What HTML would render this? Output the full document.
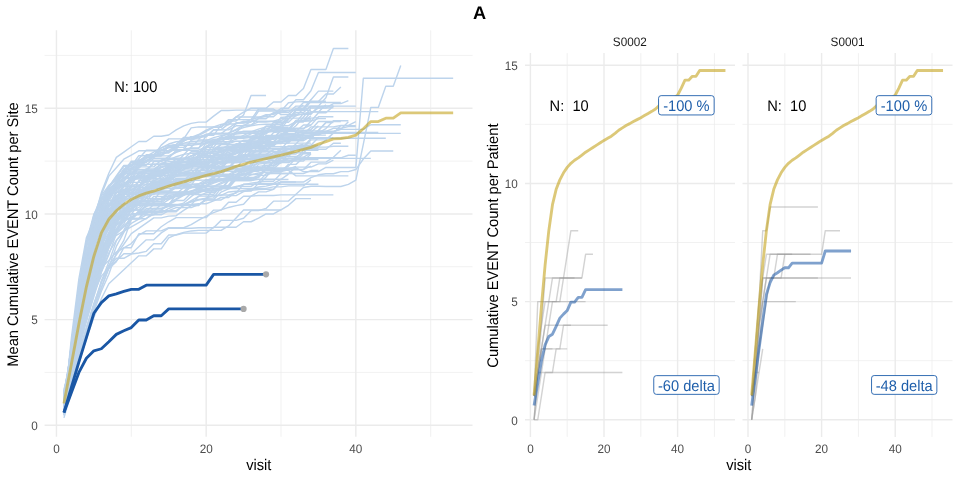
<!DOCTYPE html><html><head><meta charset="utf-8"><style>html,body{margin:0;padding:0;background:#fff;width:960px;height:480px;overflow:hidden}svg{display:block;will-change:transform}</style></head><body><svg width="960" height="480" viewBox="0 0 960 480" font-family='"Liberation Sans", sans-serif' text-rendering="geometricPrecision"><rect width="960" height="480" fill="#fff"/><line x1="44.60" x2="472.50" y1="372.42" y2="372.42" stroke="#ebebeb" stroke-width="0.71"/><line x1="44.60" x2="472.50" y1="266.75" y2="266.75" stroke="#ebebeb" stroke-width="0.71"/><line x1="44.60" x2="472.50" y1="161.09" y2="161.09" stroke="#ebebeb" stroke-width="0.71"/><line x1="44.60" x2="472.50" y1="55.42" y2="55.42" stroke="#ebebeb" stroke-width="0.71"/><line x1="131.30" x2="131.30" y1="30.30" y2="436.80" stroke="#ebebeb" stroke-width="0.71"/><line x1="281.00" x2="281.00" y1="30.30" y2="436.80" stroke="#ebebeb" stroke-width="0.71"/><line x1="430.70" x2="430.70" y1="30.30" y2="436.80" stroke="#ebebeb" stroke-width="0.71"/><line x1="44.60" x2="472.50" y1="425.25" y2="425.25" stroke="#ebebeb" stroke-width="1.42"/><line x1="44.60" x2="472.50" y1="319.59" y2="319.59" stroke="#ebebeb" stroke-width="1.42"/><line x1="44.60" x2="472.50" y1="213.92" y2="213.92" stroke="#ebebeb" stroke-width="1.42"/><line x1="44.60" x2="472.50" y1="108.25" y2="108.25" stroke="#ebebeb" stroke-width="1.42"/><line x1="56.45" x2="56.45" y1="30.30" y2="436.80" stroke="#ebebeb" stroke-width="1.42"/><line x1="206.15" x2="206.15" y1="30.30" y2="436.80" stroke="#ebebeb" stroke-width="1.42"/><line x1="355.85" x2="355.85" y1="30.30" y2="436.80" stroke="#ebebeb" stroke-width="1.42"/><line x1="525.00" x2="735.00" y1="360.67" y2="360.67" stroke="#ebebeb" stroke-width="0.71"/><line x1="525.00" x2="735.00" y1="242.50" y2="242.50" stroke="#ebebeb" stroke-width="0.71"/><line x1="525.00" x2="735.00" y1="124.34" y2="124.34" stroke="#ebebeb" stroke-width="0.71"/><line x1="567.20" x2="567.20" y1="53.10" y2="436.90" stroke="#ebebeb" stroke-width="0.71"/><line x1="640.80" x2="640.80" y1="53.10" y2="436.90" stroke="#ebebeb" stroke-width="0.71"/><line x1="714.40" x2="714.40" y1="53.10" y2="436.90" stroke="#ebebeb" stroke-width="0.71"/><line x1="525.00" x2="735.00" y1="419.75" y2="419.75" stroke="#ebebeb" stroke-width="1.42"/><line x1="525.00" x2="735.00" y1="301.59" y2="301.59" stroke="#ebebeb" stroke-width="1.42"/><line x1="525.00" x2="735.00" y1="183.42" y2="183.42" stroke="#ebebeb" stroke-width="1.42"/><line x1="525.00" x2="735.00" y1="65.25" y2="65.25" stroke="#ebebeb" stroke-width="1.42"/><line x1="530.40" x2="530.40" y1="53.10" y2="436.90" stroke="#ebebeb" stroke-width="1.42"/><line x1="604.00" x2="604.00" y1="53.10" y2="436.90" stroke="#ebebeb" stroke-width="1.42"/><line x1="677.60" x2="677.60" y1="53.10" y2="436.90" stroke="#ebebeb" stroke-width="1.42"/><line x1="742.50" x2="952.50" y1="360.67" y2="360.67" stroke="#ebebeb" stroke-width="0.71"/><line x1="742.50" x2="952.50" y1="242.50" y2="242.50" stroke="#ebebeb" stroke-width="0.71"/><line x1="742.50" x2="952.50" y1="124.34" y2="124.34" stroke="#ebebeb" stroke-width="0.71"/><line x1="784.80" x2="784.80" y1="53.10" y2="436.90" stroke="#ebebeb" stroke-width="0.71"/><line x1="858.40" x2="858.40" y1="53.10" y2="436.90" stroke="#ebebeb" stroke-width="0.71"/><line x1="932.00" x2="932.00" y1="53.10" y2="436.90" stroke="#ebebeb" stroke-width="0.71"/><line x1="742.50" x2="952.50" y1="419.75" y2="419.75" stroke="#ebebeb" stroke-width="1.42"/><line x1="742.50" x2="952.50" y1="301.59" y2="301.59" stroke="#ebebeb" stroke-width="1.42"/><line x1="742.50" x2="952.50" y1="183.42" y2="183.42" stroke="#ebebeb" stroke-width="1.42"/><line x1="742.50" x2="952.50" y1="65.25" y2="65.25" stroke="#ebebeb" stroke-width="1.42"/><line x1="748.00" x2="748.00" y1="53.10" y2="436.90" stroke="#ebebeb" stroke-width="1.42"/><line x1="821.60" x2="821.60" y1="53.10" y2="436.90" stroke="#ebebeb" stroke-width="1.42"/><line x1="895.20" x2="895.20" y1="53.10" y2="436.90" stroke="#ebebeb" stroke-width="1.42"/><g fill="none" stroke="#bdd4ec" stroke-width="1.42" stroke-linejoin="round"><path d="M63.94 408.08L71.42 354.78L78.91 308.51L86.39 267.00L93.88 232.50L101.36 206.52L108.84 189.78L116.33 182.80L123.82 168.86L131.30 168.86L138.79 161.88L146.27 161.88L153.75 154.91L161.24 147.94L168.73 145.42L176.21 144.65L183.69 137.35L191.18 137.35L198.67 134.50L206.15 130.24L213.63 126.86L221.12 124.35L228.61 122.71L236.09 116.83L243.57 112.08L251.06 108.25L258.55 108.25L266.03 108.25L273.51 101.92L281.00 101.92L288.49 95.58L295.97 95.58L303.46 88.39L310.94 69.58L318.43 69.58L325.91 69.58L333.39 48.45L340.88 48.45L348.37 48.45"/><path d="M63.94 397.66L71.42 356.49L78.91 310.25L86.39 268.39L93.88 234.04L101.36 207.33L108.84 190.29L116.33 183.32L123.82 169.37L131.30 162.40L138.79 162.40L146.27 162.40L153.75 155.42L161.24 155.42L168.73 145.97L176.21 145.23L183.69 145.23L191.18 145.23L198.67 144.33L206.15 140.54L213.63 137.62L221.12 135.58L228.61 134.40L236.09 122.77L243.57 122.77L251.06 119.45L258.55 117.54L266.03 114.59L273.51 114.59L281.00 108.25L288.49 108.25L295.97 99.80L303.46 99.80L310.94 90.71L318.43 72.54L325.91 72.54L333.39 72.54L340.88 72.54L348.37 72.54L355.85 72.54"/><path d="M63.94 392.06L71.42 356.45L78.91 310.95L86.39 268.37L93.88 233.83L101.36 207.40L108.84 190.27L116.33 181.81L123.82 173.36L131.30 169.14L138.79 164.91L146.27 160.68L153.75 156.46L161.24 152.23L168.73 152.23L176.21 146.63L183.69 141.19L191.18 136.81L198.67 136.81L206.15 136.81L213.63 129.99L221.12 129.84L228.61 129.84L236.09 125.82L243.57 125.82L251.06 124.98L258.55 121.92L266.03 121.92L273.51 121.21L281.00 118.82L288.49 118.82L295.97 112.48L303.46 112.48L310.94 106.14L318.43 106.14L325.91 97.69L333.39 76.98L340.88 76.98L348.37 76.98"/><path d="M63.94 402.57L71.42 368.40L78.91 331.54L86.39 296.77L93.88 267.38L101.36 245.67L108.84 232.25L116.33 225.27L123.82 218.30L131.30 218.30L138.79 218.30L146.27 211.32L153.75 211.32L161.24 204.35L168.73 204.35L176.21 204.35L183.69 204.34L191.18 201.43L198.67 199.39L206.15 198.23L213.63 197.93L221.12 188.05L228.61 188.05L236.09 179.61L243.57 179.61L251.06 179.61L258.55 176.55L266.03 167.98L273.51 167.98L281.00 167.98L288.49 167.98L295.97 167.98L303.46 171.65L310.94 171.65L318.43 171.65L325.91 167.43L333.39 167.43L340.88 167.43L348.37 167.43L355.85 167.43L363.33 78.25L370.82 78.25L378.31 78.25L385.79 78.25L393.27 78.25L400.76 78.25L408.25 78.25L415.73 78.25L423.22 78.25L430.70 78.25L438.19 78.25L445.67 78.25L453.16 78.25"/><path d="M63.94 404.07L71.42 376.91L78.91 345.14L86.39 316.74L93.88 292.75L101.36 276.11L108.84 267.75L116.33 260.77L123.82 253.80L131.30 253.80L138.79 246.82L146.27 239.85L153.75 239.85L161.24 232.88L168.73 228.26L176.21 228.26L183.69 228.26L191.18 228.26L198.67 227.68L206.15 227.68L213.63 227.68L221.12 220.38L228.61 220.38L236.09 220.38L243.57 218.30L251.06 210.64L258.55 210.64L266.03 208.39L273.51 201.16L281.00 201.16L288.49 201.08L295.97 194.29L303.46 187.50L310.94 186.31L318.43 186.31L325.91 186.45L333.39 186.45L340.88 186.45L348.37 184.33L355.85 180.11L363.33 144.18L370.82 107.41L378.31 107.41L385.79 86.28L393.27 86.28L400.76 65.57"/><path d="M63.94 405.03L71.42 355.23L78.91 309.57L86.39 268.59L93.88 233.85L101.36 207.87L108.84 192.04L116.33 185.07L123.82 171.12L131.30 164.14L138.79 164.14L146.27 157.17L153.75 157.17L161.24 150.20L168.73 147.83L176.21 147.20L183.69 140.03L191.18 138.84L198.67 135.29L206.15 131.50L213.63 127.27L221.12 127.27L228.61 120.93L236.09 120.93L243.57 115.02L251.06 95.58L258.55 95.58L266.03 95.58"/><path d="M63.94 407.92L71.42 356.21L78.91 310.92L86.39 268.66L93.88 234.18L101.36 208.37L108.84 193.25L116.33 182.69L123.82 172.12L131.30 172.12L138.79 172.12L146.27 172.12L153.75 161.55L161.24 161.55L168.73 156.30L176.21 152.37L183.69 149.76L191.18 148.46L198.67 148.46L206.15 135.31L213.63 135.31L221.12 124.81L228.61 124.81L236.09 116.94L243.57 116.94L251.06 116.94L258.55 116.94L266.03 116.71L273.51 116.71L281.00 110.37L288.49 110.37L295.97 110.37L303.46 102.55L310.94 102.55L318.43 102.55L325.91 102.55L333.39 102.55L340.88 102.55"/><path d="M63.94 395.89L71.42 354.38L78.91 308.31L86.39 266.83L93.88 231.72L101.36 205.77L108.84 192.13L116.33 181.56L123.82 181.56L131.30 170.99L138.79 170.99L146.27 170.99L153.75 170.99L161.24 170.99L168.73 166.33L176.21 162.99L183.69 154.69L191.18 147.05L198.67 140.08L206.15 140.08L213.63 140.08L221.12 138.96L228.61 135.29L236.09 132.28L243.57 125.72L251.06 121.69L258.55 118.82L266.03 118.82L273.51 112.48L281.00 112.48L288.49 112.48L295.97 106.14L303.46 106.14L310.94 106.14L318.43 106.14L325.91 106.14L333.39 106.14"/><path d="M63.94 405.84L71.42 356.65L78.91 311.10L86.39 269.23L93.88 233.70L101.36 206.17L108.84 187.38L116.33 176.82L123.82 166.25L131.30 166.25L138.79 155.68L146.27 155.68L153.75 155.68L161.24 145.12L168.73 138.84L176.21 138.84L183.69 138.84L191.18 127.92L198.67 126.92L206.15 126.92L213.63 126.92L221.12 126.92L228.61 119.62L236.09 119.62L243.57 119.62L251.06 119.62L258.55 109.03L266.03 109.03L273.51 109.03L281.00 114.59L288.49 114.59L295.97 108.25L303.46 108.25L310.94 99.80L318.43 91.14L325.91 91.14L333.39 91.14"/><path d="M63.94 407.67L71.42 355.11L78.91 309.47L86.39 267.52L93.88 232.48L101.36 206.30L108.84 186.86L116.33 178.41L123.82 169.96L131.30 165.73L138.79 161.50L146.27 161.50L153.75 157.28L161.24 153.05L168.73 153.05L176.21 147.56L183.69 147.19L191.18 143.12L198.67 143.12L206.15 143.12L213.63 143.12L221.12 137.41L228.61 137.41L236.09 137.41L243.57 137.09L251.06 133.82L258.55 131.07L266.03 128.85L273.51 127.16L281.00 117.54L288.49 116.64L295.97 115.63L303.46 113.92L310.94 111.64L318.43 111.64L325.91 111.64L333.39 111.64L340.88 111.64L348.37 111.64L355.85 111.64L363.33 111.64L370.82 111.64L378.31 111.64"/><path d="M63.94 389.32L71.42 360.61L78.91 317.40L86.39 279.11L93.88 246.86L101.36 220.66L108.84 206.52L116.33 202.29L123.82 193.84L131.30 189.61L138.79 185.38L146.27 181.16L153.75 181.16L161.24 176.93L168.73 170.39L176.21 164.91L183.69 164.91L191.18 164.91L198.67 164.91L206.15 164.91L213.63 164.91L221.12 154.21L228.61 149.52L236.09 145.36L243.57 145.36L251.06 145.36L258.55 143.71L266.03 141.93L273.51 132.48L281.00 131.49L288.49 131.03L295.97 131.03L303.46 131.03L310.94 131.03L318.43 131.03L325.91 131.50L333.39 131.50L340.88 129.39L348.37 129.39L355.85 129.39L363.33 129.39L370.82 124.74L378.31 124.74L385.79 124.74L393.27 124.74L400.76 124.74"/><path d="M63.94 398.95L71.42 359.11L78.91 316.63L86.39 276.69L93.88 243.94L101.36 219.12L108.84 213.99L116.33 200.04L123.82 193.07L131.30 186.09L138.79 172.15L146.27 172.15L153.75 172.15L161.24 172.15L168.73 171.15L176.21 171.15L183.69 166.10L191.18 161.17L198.67 157.12L206.15 157.12L213.63 157.12L221.12 157.12L228.61 157.12L236.09 149.95L243.57 149.95L251.06 149.95L258.55 143.46L266.03 143.46L273.51 137.54L281.00 137.54L288.49 137.54L295.97 135.55L303.46 133.40L310.94 133.40L318.43 133.40L325.91 133.40L333.39 133.40L340.88 133.40L348.37 133.40L355.85 133.40L363.33 133.40L370.82 133.40L378.31 133.40L385.79 133.40L393.27 133.40L400.76 133.40"/><path d="M63.94 404.60L71.42 361.92L78.91 319.75L86.39 280.83L93.88 248.34L101.36 224.82L108.84 210.35L116.33 205.06L123.82 194.50L131.30 194.50L138.79 189.21L146.27 183.93L153.75 183.93L161.24 183.93L168.73 180.07L176.21 171.60L183.69 170.05L191.18 163.22L198.67 163.22L206.15 163.22L213.63 161.89L221.12 158.37L228.61 155.50L236.09 153.30L243.57 151.75L251.06 150.87L258.55 150.65L266.03 150.65L273.51 141.94L281.00 141.94L288.49 139.75L295.97 139.75L303.46 138.26L310.94 138.26L318.43 138.26L325.91 138.26L333.39 138.26L340.88 138.26L348.37 138.26L355.85 138.26L363.33 138.26L370.82 138.26L378.31 138.26L385.79 138.26"/><path d="M63.94 391.14L71.42 360.46L78.91 319.42L86.39 280.68L93.88 249.45L101.36 224.88L108.84 215.45L116.33 206.99L123.82 198.54L131.30 194.31L138.79 194.31L146.27 190.09L153.75 181.64L161.24 181.64L168.73 175.39L176.21 174.96L183.69 174.96L191.18 173.56L198.67 172.07L206.15 165.83L213.63 165.83L221.12 161.27L228.61 161.27L236.09 159.87L243.57 159.87L251.06 154.25L258.55 154.25L266.03 154.25L273.51 149.78L281.00 149.35L288.49 140.73L295.97 140.73L303.46 140.73L310.94 136.33L318.43 133.82L325.91 132.56L333.39 132.56L340.88 132.56L348.37 132.56L355.85 132.56L363.33 132.56L370.82 132.56L378.31 132.56"/><path d="M63.94 407.43L71.42 369.75L78.91 333.05L86.39 300.82L93.88 273.01L101.36 252.57L108.84 234.95L116.33 224.39L123.82 219.10L131.30 213.82L138.79 213.82L146.27 213.82L153.75 208.54L161.24 208.54L168.73 206.22L176.21 205.22L183.69 205.22L191.18 200.59L198.67 196.29L206.15 192.65L213.63 192.65L221.12 187.35L228.61 187.35L236.09 187.35L243.57 184.36L251.06 184.36L258.55 184.36L266.03 184.36L273.51 184.36L281.00 182.02L288.49 182.02L295.97 182.02L303.46 182.02L310.94 177.71L318.43 174.82L325.91 173.77L333.39 173.77L340.88 171.65L348.37 171.65L355.85 169.54L363.33 158.97L370.82 150.94L378.31 150.94L385.79 150.94L393.27 150.94"/><path d="M63.94 406.25L71.42 364.81L78.91 326.08L86.39 290.95L93.88 260.37L101.36 237.33L108.84 224.27L116.33 215.81L123.82 211.59L131.30 211.59L138.79 207.36L146.27 203.13L153.75 198.91L161.24 198.91L168.73 198.23L176.21 194.39L183.69 191.60L191.18 184.59L198.67 183.65L206.15 183.65L213.63 178.87L221.12 178.87L228.61 177.26L236.09 174.20L243.57 171.68L251.06 169.69L258.55 168.22L266.03 167.28L273.51 166.87L281.00 158.54L288.49 158.54L295.97 158.54L303.46 158.34L310.94 158.34L318.43 158.34L325.91 158.34L333.39 158.34L340.88 158.34L348.37 158.34L355.85 158.34L363.33 158.34L370.82 158.34"/><path d="M63.94 406.99L71.42 374.78L78.91 341.74L86.39 311.43L93.88 286.00L101.36 267.59L108.84 260.49L116.33 252.04L123.82 247.81L131.30 243.59L138.79 235.13L146.27 230.91L153.75 230.91L161.24 230.91L168.73 227.74L176.21 227.74L183.69 227.74L191.18 224.59L198.67 220.10L206.15 216.14L213.63 212.71L221.12 209.81L228.61 207.44L236.09 205.60L243.57 204.28L251.06 196.10L258.55 195.57L266.03 195.57L273.51 195.57L281.00 194.90L288.49 194.90L295.97 194.90L303.46 194.90L310.94 194.90L318.43 194.90L325.91 194.90L333.39 194.90"/><path d="M63.94 402.06L71.42 370.26L78.91 334.25L86.39 300.43L93.88 273.08L101.36 252.66L108.84 243.83L116.33 235.37L123.82 231.15L131.30 226.92L138.79 222.69L146.27 218.47L153.75 214.24L161.24 210.01L168.73 205.54L176.21 205.54L183.69 204.79L191.18 204.79L198.67 203.78L206.15 203.78L213.63 200.91L221.12 197.50L228.61 197.50L236.09 192.25L243.57 190.42L251.06 189.12L258.55 187.04L266.03 186.10L273.51 184.33L281.00 184.33L288.49 184.33L295.97 184.33L303.46 184.33L310.94 184.33L318.43 184.33"/><path d="M63.94 414.48L71.42 371.61L78.91 334.18L86.39 298.52L93.88 270.69L101.36 248.71L108.84 237.88L116.33 230.91L123.82 223.93L131.30 209.99L138.79 209.99L146.27 209.99L153.75 209.99L161.24 209.99L168.73 203.94L176.21 198.77L183.69 194.47L191.18 191.04L198.67 188.48L206.15 186.80L213.63 185.98L221.12 185.98L228.61 185.98L236.09 177.44L243.57 177.44L251.06 170.58L258.55 170.58L266.03 170.58L273.51 170.32L281.00 170.32L288.49 170.32L295.97 175.88L303.46 175.88L310.94 175.88L318.43 175.88L325.91 175.88L333.39 175.88L340.88 175.88L348.37 175.88"/><path d="M63.94 417.85L71.42 392.49L78.91 363.96L86.39 336.49L93.88 310.08L101.36 281.55L108.84 266.75L116.33 258.30L123.82 258.30L131.30 254.07L138.79 253.02L146.27 251.33L153.75 243.72L161.24 243.72L168.73 235.05L176.21 235.05L183.69 233.15L191.18 233.15L198.67 233.15L206.15 233.15L213.63 227.23L221.12 227.23L228.61 227.23L236.09 227.23L243.57 221.74L251.06 221.74L258.55 218.15L266.03 213.92L273.51 213.92L281.00 209.69"/><path d="M63.94 414.89L71.42 385.45L78.91 361.79L86.39 338.92L93.88 317.15L101.36 298.72L108.84 283.73L116.33 276.76L123.82 269.78L131.30 262.81L138.79 255.84L146.27 255.84L153.75 248.86L161.24 248.86L168.73 237.84L176.21 234.66L183.69 232.35L191.18 230.92L198.67 230.35L206.15 230.35L213.63 230.35L221.12 230.35L228.61 225.92L236.09 217.95L243.57 209.97L251.06 209.97L258.55 209.97L266.03 209.97L273.51 209.97L281.00 209.97L288.49 205.29L295.97 198.62L303.46 198.62L310.94 198.62"/><path d="M63.94 393.20L71.42 380.60L78.91 355.05L86.39 330.39L93.88 306.47L101.36 287.81L108.84 268.61L116.33 261.63L123.82 247.69L131.30 247.69L138.79 233.74L146.27 233.74L153.75 233.74L161.24 226.76L168.73 221.77L176.21 217.64L183.69 217.64L191.18 217.64L198.67 217.64L206.15 217.64L213.63 210.10L221.12 210.10L228.61 202.29L236.09 202.29L243.57 196.22L251.06 196.22L258.55 191.90L266.03 191.90L273.51 189.31L281.00 181.70"/><path d="M63.94 415.64L71.42 379.74L78.91 353.09L86.39 327.48L93.88 303.26L101.36 283.05L108.84 265.39L116.33 254.82L123.82 244.26L131.30 233.69L138.79 228.41L146.27 223.12L153.75 217.84L161.24 217.84L168.73 216.10L176.21 215.69L183.69 210.32L191.18 205.61L198.67 205.61L206.15 198.18L213.63 195.45L221.12 195.45L228.61 191.98L236.09 191.23L243.57 191.15L251.06 191.15L258.55 183.38L266.03 183.38L273.51 183.38L281.00 179.49L288.49 179.49"/><path d="M63.94 412.45L71.42 376.28L78.91 346.88L86.39 319.13L93.88 293.69L101.36 271.56L108.84 252.93L116.33 240.25L123.82 231.80L131.30 223.34L138.79 219.12L146.27 214.89L153.75 214.89L161.24 210.66L168.73 210.66L176.21 210.66L183.69 205.56L191.18 204.57L198.67 204.57L206.15 199.93L213.63 199.93L221.12 199.93L228.61 195.62L236.09 195.62L243.57 191.52L251.06 190.26L258.55 189.53L266.03 189.32L273.51 189.32L281.00 182.05L288.49 182.05L295.97 182.05"/><path d="M63.94 410.02L71.42 366.15L78.91 328.35L86.39 292.89L93.88 264.50L101.36 246.15L108.84 239.70L116.33 232.73L123.82 225.75L131.30 218.78L138.79 218.78L146.27 218.78L153.75 211.81L161.24 211.81L168.73 211.81L176.21 211.81L183.69 204.91L191.18 202.03L198.67 200.02L206.15 198.89L213.63 188.60L221.12 188.60L228.61 188.60L236.09 188.60L243.57 188.60L251.06 188.60L258.55 188.60L266.03 188.60"/><path d="M63.94 407.98L71.42 372.08L78.91 334.88L86.39 301.51L93.88 273.89L101.36 251.86L108.84 238.15L116.33 229.69L123.82 221.24L131.30 217.01L138.79 212.79L146.27 212.79L153.75 212.79L161.24 212.79L168.73 208.49L176.21 205.25L183.69 203.07L191.18 196.65L198.67 190.77L206.15 190.77L213.63 186.67L221.12 182.63L228.61 179.13L236.09 176.15L243.57 173.71L251.06 171.79L258.55 170.39L266.03 169.53L273.51 169.20L281.00 169.20L288.49 169.20"/><path d="M63.94 395.07L71.42 376.07L78.91 346.57L86.39 317.76L93.88 290.40L101.36 267.46L108.84 247.72L116.33 233.77L123.82 226.80L131.30 219.82L138.79 212.85L146.27 205.87L153.75 205.87L161.24 205.87L168.73 205.87L176.21 194.14L183.69 194.14L191.18 194.14L198.67 192.24L206.15 190.73L213.63 190.10L221.12 190.10L228.61 180.55L236.09 180.55L243.57 180.55L251.06 180.55L258.55 179.31L266.03 179.31L273.51 179.31L281.00 179.31L288.49 174.16"/><path d="M63.94 397.02L71.42 379.06L78.91 357.08L86.39 332.33L93.88 309.48L101.36 287.84L108.84 267.33L116.33 246.41L123.82 232.46L131.30 218.51L138.79 211.54L146.27 211.54L153.75 204.56L161.24 204.56L168.73 204.56L176.21 200.52L183.69 200.52L191.18 192.98L198.67 192.98L206.15 188.93L213.63 188.93L221.12 188.37L228.61 188.37L236.09 188.37L243.57 188.37L251.06 188.37L258.55 188.37L266.03 188.37L273.51 186.84L281.00 186.84L288.49 185.84L295.97 185.84L303.46 185.84L310.94 179.77"/><path d="M63.94 398.37L71.42 374.98L78.91 344.71L86.39 315.85L93.88 288.05L101.36 264.48L108.84 246.71L116.33 229.80L123.82 221.35L131.30 217.12L138.79 212.90L146.27 204.44L153.75 204.44L161.24 204.44L168.73 199.62L176.21 195.86L183.69 193.16L191.18 186.22L198.67 185.37L206.15 185.37L213.63 180.75L221.12 180.75L228.61 179.30L236.09 176.33L243.57 173.89L251.06 171.98L258.55 170.59L266.03 169.74L273.51 169.41L281.00 169.41L288.49 169.41L295.97 169.41L303.46 169.41L310.94 166.18"/><path d="M63.94 413.46L71.42 363.29L78.91 321.68L86.39 286.05L93.88 258.68L101.36 240.78L108.84 227.51L116.33 219.06L123.82 214.83L131.30 214.83L138.79 214.83L146.27 214.83L153.75 214.83L161.24 214.83L168.73 210.66L176.21 207.55L183.69 207.55L191.18 207.55L198.67 204.55L206.15 199.85L213.63 199.85L221.12 192.04L228.61 188.93L236.09 186.34L243.57 186.34L251.06 186.34L258.55 181.76L266.03 181.29L273.51 181.29L281.00 173.48L288.49 173.48L295.97 173.48L303.46 173.48L310.94 170.54L318.43 170.54"/><path d="M63.94 402.17L71.42 380.24L78.91 357.48L86.39 332.84L93.88 311.52L101.36 291.15L108.84 274.19L116.33 253.05L123.82 240.37L131.30 219.24L138.79 210.79L146.27 206.56L153.75 202.34L161.24 198.11L168.73 192.89L176.21 192.89L183.69 192.89L191.18 192.89L198.67 192.89L206.15 188.48L213.63 188.48L221.12 188.48L228.61 188.48L236.09 186.64L243.57 184.60L251.06 183.08L258.55 182.09L266.03 173.71L273.51 173.51L281.00 173.51L288.49 173.51L295.97 167.11L303.46 167.11L310.94 167.11L318.43 163.88L325.91 163.88L333.39 160.06"/><path d="M63.94 408.30L71.42 372.16L78.91 337.61L86.39 305.28L93.88 276.98L101.36 253.80L108.84 235.36L116.33 222.68L123.82 210.00L131.30 205.78L138.79 201.55L146.27 201.55L153.75 201.55L161.24 201.55L168.73 192.06L176.21 192.06L183.69 192.06L191.18 192.06L198.67 187.12L206.15 181.59L213.63 176.59L221.12 176.59L228.61 174.78L236.09 174.78L243.57 174.78L251.06 174.78L258.55 173.01L266.03 172.23L273.51 171.99L281.00 171.99L288.49 164.37L295.97 164.37L303.46 157.80L310.94 157.80L318.43 157.80L325.91 157.80L333.39 157.80L340.88 157.80L348.37 155.28L355.85 155.28"/><path d="M63.94 402.79L71.42 365.18L78.91 326.39L86.39 291.04L93.88 261.90L101.36 240.65L108.84 225.06L116.33 220.83L123.82 216.60L131.30 208.15L138.79 203.92L146.27 203.92L153.75 199.70L161.24 199.70L168.73 199.07L176.21 195.28L183.69 192.54L191.18 190.86L198.67 190.86L206.15 190.86L213.63 190.86L221.12 188.36L228.61 185.09L236.09 175.48L243.57 173.01L251.06 163.67L258.55 161.99L266.03 161.99L273.51 160.21L281.00 160.11L288.49 160.11L295.97 160.11L303.46 153.75L310.94 153.75"/><path d="M63.94 400.97L71.42 363.20L78.91 320.22L86.39 282.78L93.88 253.74L101.36 235.04L108.84 224.00L116.33 217.03L123.82 210.05L131.30 210.05L138.79 210.05L146.27 203.08L153.75 203.08L161.24 203.08L168.73 196.60L176.21 196.60L183.69 194.55L191.18 194.55L198.67 194.55L206.15 194.55L213.63 194.55L221.12 186.14L228.61 186.14L236.09 177.55L243.57 177.55L251.06 170.70L258.55 170.70L266.03 165.59L273.51 165.59L281.00 162.23L288.49 154.01L295.97 145.79L303.46 145.79L310.94 145.79"/><path d="M63.94 412.88L71.42 365.62L78.91 327.53L86.39 291.21L93.88 262.84L101.36 241.32L108.84 229.52L116.33 218.95L123.82 218.95L131.30 218.95L138.79 218.95L146.27 208.38L153.75 208.38L161.24 208.38L168.73 206.06L176.21 205.05L183.69 205.05L191.18 205.05L198.67 196.09L206.15 196.09L213.63 196.09L221.12 195.05L228.61 195.05L236.09 193.04L243.57 184.11L251.06 184.11L258.55 184.11L266.03 177.13L273.51 168.85L281.00 168.85L288.49 168.85L295.97 166.50"/><path d="M63.94 399.64L71.42 374.02L78.91 345.76L86.39 316.14L93.88 287.38L101.36 263.53L108.84 245.31L116.33 231.36L123.82 217.41L131.30 210.44L138.79 203.46L146.27 203.46L153.75 196.49L161.24 196.49L168.73 196.49L176.21 196.49L183.69 195.00L191.18 191.60L198.67 189.07L206.15 187.42L213.63 176.61L221.12 176.26L228.61 176.26L236.09 176.26L243.57 168.67L251.06 168.67L258.55 162.30L266.03 162.30L273.51 157.68L281.00 149.05L288.49 149.05"/><path d="M63.94 408.63L71.42 369.23L78.91 331.57L86.39 296.88L93.88 267.82L101.36 244.71L108.84 226.20L116.33 219.22L123.82 212.25L131.30 205.27L138.79 205.27L146.27 205.27L153.75 205.27L161.24 205.27L168.73 205.27L176.21 193.47L183.69 193.47L191.18 193.47L198.67 191.45L206.15 180.32L213.63 180.32L221.12 178.97L228.61 178.97L236.09 178.97L243.57 178.97L251.06 174.54L258.55 174.54L266.03 169.71L273.51 161.19L281.00 161.19L288.49 158.54L295.97 158.54L303.46 158.54"/><path d="M63.94 401.71L71.42 363.48L78.91 322.55L86.39 287.07L93.88 256.76L101.36 235.81L108.84 217.66L116.33 210.68L123.82 203.71L131.30 203.71L138.79 203.71L146.27 203.71L153.75 203.71L161.24 203.71L168.73 203.71L176.21 199.55L183.69 195.30L191.18 191.91L198.67 189.40L206.15 189.40L213.63 186.98L221.12 186.98L228.61 186.98L236.09 178.57L243.57 178.57L251.06 178.57L258.55 175.39L266.03 175.39L273.51 171.67L281.00 171.67L288.49 169.69L295.97 169.69L303.46 169.46L310.94 162.15L318.43 162.15L325.91 162.15L333.39 157.22L340.88 150.35"/><path d="M63.94 409.77L71.42 355.97L78.91 307.90L86.39 267.74L93.88 240.40L101.36 226.85L108.84 213.86L116.33 208.57L123.82 208.57L131.30 203.29L138.79 203.29L146.27 198.01L153.75 192.72L161.24 192.72L168.73 192.72L176.21 187.43L183.69 186.77L191.18 186.77L198.67 186.77L206.15 185.44L213.63 182.13L221.12 179.48L228.61 177.50L236.09 176.17L243.57 166.59L251.06 166.26L258.55 157.01L266.03 157.01L273.51 157.01L281.00 157.01L288.49 152.70L295.97 152.70L303.46 152.70L310.94 152.70"/><path d="M63.94 394.47L71.42 358.97L78.91 314.28L86.39 276.47L93.88 246.72L101.36 228.61L108.84 219.81L116.33 214.53L123.82 209.25L131.30 209.25L138.79 203.96L146.27 198.68L153.75 198.68L161.24 198.68L168.73 195.75L176.21 194.13L183.69 187.57L191.18 187.57L198.67 187.57L206.15 186.36L213.63 183.10L221.12 180.49L228.61 180.49L236.09 180.49L243.57 180.49L251.06 180.49L258.55 177.38L266.03 168.84L273.51 168.84L281.00 162.31L288.49 162.31L295.97 157.10L303.46 157.10L310.94 153.21"/><path d="M63.94 400.14L71.42 347.39L78.91 293.36L86.39 255.77L93.88 232.03L101.36 221.81L108.84 210.55L116.33 210.55L123.82 206.32L131.30 202.10L138.79 197.87L146.27 197.87L153.75 193.64L161.24 189.42L168.73 188.15L176.21 188.15L183.69 185.35L191.18 178.01L198.67 176.74L206.15 176.53L213.63 171.30L221.12 171.30L228.61 171.30L236.09 171.30L243.57 169.93L251.06 167.87L258.55 166.34L266.03 165.33L273.51 164.86L281.00 156.46L288.49 156.46L295.97 148.64L303.46 148.64L310.94 148.64L318.43 148.64"/><path d="M63.94 398.01L71.42 355.95L78.91 307.87L86.39 266.60L93.88 239.17L101.36 224.68L108.84 213.57L116.33 209.34L123.82 200.89L131.30 196.66L138.79 192.43L146.27 192.43L153.75 192.43L161.24 192.43L168.73 192.43L176.21 192.43L183.69 192.43L191.18 187.06L198.67 186.25L206.15 186.25L213.63 186.25L221.12 183.80L228.61 180.35L236.09 177.42L243.57 175.02L251.06 173.15L258.55 164.14L266.03 163.07L273.51 162.51L281.00 154.04L288.49 154.04L295.97 154.04L303.46 147.10L310.94 147.10L318.43 147.10L325.91 147.10L333.39 146.22L340.88 146.22L348.37 146.22"/><path d="M63.94 398.49L71.42 355.12L78.91 308.33L86.39 268.78L93.88 238.80L101.36 224.10L108.84 215.08L116.33 204.51L123.82 204.51L131.30 204.51L138.79 204.51L146.27 193.95L153.75 193.95L161.24 193.95L168.73 193.95L176.21 193.95L183.69 193.95L191.18 193.95L198.67 191.01L206.15 191.01L213.63 191.01L221.12 189.24L228.61 179.41L236.09 179.41L243.57 177.57L251.06 177.57L258.55 177.57L266.03 169.86L273.51 169.86L281.00 169.86L288.49 166.12L295.97 158.27L303.46 150.41L310.94 150.41L318.43 150.41"/><path d="M63.94 406.29L71.42 365.25L78.91 326.79L86.39 290.28L93.88 261.01L101.36 238.30L108.84 221.89L116.33 216.61L123.82 211.32L131.30 206.04L138.79 200.76L146.27 200.76L153.75 200.76L161.24 190.19L168.73 186.72L176.21 184.58L183.69 184.58L191.18 184.26L198.67 184.26L206.15 181.95L213.63 181.95L221.12 175.68L228.61 175.68L236.09 172.06L243.57 171.23L251.06 171.07L258.55 171.07L266.03 162.82L273.51 162.82L281.00 162.82L288.49 158.37L295.97 158.37L303.46 158.37L310.94 157.88"/><path d="M63.94 413.61L71.42 359.21L78.91 315.02L86.39 275.95L93.88 244.94L101.36 226.54L108.84 217.58L116.33 203.63L123.82 196.66L131.30 196.66L138.79 189.68L146.27 189.68L153.75 182.71L161.24 182.71L168.73 182.37L176.21 175.93L183.69 175.93L191.18 175.93L198.67 175.93L206.15 175.93L213.63 175.93L221.12 175.93L228.61 166.14L236.09 166.14L243.57 166.14L251.06 159.46L258.55 159.46L266.03 159.46L273.51 158.01L281.00 158.01L288.49 155.15"/><path d="M63.94 404.86L71.42 363.95L78.91 325.60L86.39 289.80L93.88 260.58L101.36 237.68L108.84 215.67L116.33 215.67L123.82 205.10L131.30 205.10L138.79 194.54L146.27 194.54L153.75 194.54L161.24 183.97L168.73 183.97L176.21 183.97L183.69 183.97L191.18 176.48L198.67 176.48L206.15 176.48L213.63 176.48L221.12 174.28L228.61 174.28L236.09 170.54L243.57 170.54L251.06 169.43L258.55 169.43L266.03 169.43L273.51 162.50L281.00 162.50L288.49 162.50L295.97 159.52L303.46 159.52L310.94 159.52L318.43 159.52"/><path d="M63.94 397.15L71.42 366.68L78.91 328.15L86.39 293.62L93.88 264.75L101.36 241.81L108.84 223.28L116.33 223.28L123.82 212.72L131.30 202.15L138.79 202.15L146.27 202.15L153.75 191.58L161.24 191.58L168.73 191.58L176.21 186.15L183.69 185.42L191.18 185.42L198.67 174.04L206.15 174.04L213.63 174.04L221.12 169.85L228.61 159.21L236.09 159.21L243.57 155.76L251.06 155.76L258.55 154.95L266.03 154.95L273.51 154.95L281.00 148.12L288.49 148.12L295.97 148.12L303.46 145.25L310.94 145.25L318.43 145.25"/><path d="M63.94 398.37L71.42 373.80L78.91 344.49L86.39 315.06L93.88 286.55L101.36 264.41L108.84 241.31L116.33 225.46L123.82 220.18L131.30 209.61L138.79 199.05L146.27 193.76L153.75 188.48L161.24 188.48L168.73 188.48L176.21 188.48L183.69 188.00L191.18 188.00L198.67 183.83L206.15 179.60L213.63 179.60L221.12 179.60L228.61 179.12L236.09 169.28L243.57 169.28L251.06 168.08L258.55 168.08L266.03 168.08L273.51 161.00L281.00 161.00L288.49 161.00L295.97 161.00L303.46 161.00L310.94 154.04"/><path d="M63.94 401.60L71.42 370.04L78.91 336.85L86.39 304.55L93.88 274.43L101.36 251.41L108.84 232.85L116.33 218.91L123.82 211.93L131.30 204.96L138.79 197.99L146.27 191.01L153.75 191.01L161.24 191.01L168.73 191.01L176.21 185.27L183.69 180.22L191.18 180.22L198.67 180.22L206.15 179.88L213.63 178.76L221.12 168.04L228.61 168.04L236.09 168.04L243.57 159.42L251.06 159.42L258.55 159.42L266.03 156.04L273.51 156.04L281.00 152.04L288.49 152.04L295.97 149.79L303.46 149.79L310.94 149.27L318.43 149.27L325.91 149.27L333.39 143.27L340.88 143.27"/><path d="M63.94 406.13L71.42 377.79L78.91 352.52L86.39 327.94L93.88 305.15L101.36 280.92L108.84 262.07L116.33 240.94L123.82 230.38L131.30 214.53L138.79 203.96L146.27 193.39L153.75 188.11L161.24 182.83L168.73 178.90L176.21 176.30L183.69 175.01L191.18 175.01L198.67 175.01L206.15 175.01L213.63 175.01L221.12 172.56L228.61 170.29L236.09 168.68L243.57 167.72L251.06 167.43L258.55 167.43L266.03 167.43L273.51 167.43"/><path d="M63.94 395.14L71.42 374.40L78.91 344.35L86.39 315.38L93.88 287.93L101.36 263.97L108.84 244.95L116.33 223.82L123.82 213.25L131.30 202.68L138.79 202.68L146.27 192.12L153.75 181.55L161.24 181.55L168.73 181.55L176.21 174.86L183.69 173.50L191.18 173.46L198.67 173.46L206.15 162.81L213.63 162.81L221.12 162.81L228.61 160.04L236.09 160.04L243.57 156.65L251.06 156.65L258.55 155.91L266.03 146.62L273.51 146.62L281.00 146.62L288.49 146.62L295.97 146.62L303.46 146.41L310.94 138.44L318.43 130.48L325.91 122.51"/><path d="M63.94 399.81L71.42 375.44L78.91 347.44L86.39 320.38L93.88 294.54L101.36 271.23L108.84 247.99L116.33 232.14L123.82 216.29L131.30 200.44L138.79 195.15L146.27 189.87L153.75 184.59L161.24 184.59L168.73 184.59L176.21 178.28L183.69 178.28L191.18 178.28L198.67 178.28L206.15 174.25L213.63 170.44L221.12 167.28L228.61 156.53L236.09 156.53L243.57 156.53L251.06 156.53L258.55 156.53L266.03 156.53L273.51 156.53L281.00 156.53L288.49 156.53L295.97 156.53L303.46 153.06L310.94 145.28L318.43 137.51"/><path d="M63.94 401.97L71.42 374.47L78.91 345.93L86.39 316.92L93.88 290.78L101.36 266.65L108.84 239.23L116.33 228.66L123.82 218.09L131.30 202.24L138.79 191.68L146.27 186.39L153.75 181.11L161.24 181.11L168.73 177.08L176.21 174.37L183.69 172.98L191.18 172.91L198.67 167.23L206.15 162.20L213.63 157.84L221.12 157.84L228.61 157.84L236.09 157.30L243.57 155.91L251.06 145.94L258.55 145.54L266.03 145.54L273.51 145.54L281.00 137.73L288.49 137.73L295.97 137.73L303.46 133.89"/><path d="M63.94 410.25L71.42 337.90L78.91 278.58L86.39 237.68L93.88 220.26L101.36 212.41L108.84 205.72L116.33 201.50L123.82 193.04L131.30 193.04L138.79 193.04L146.27 188.82L153.75 188.82L161.24 184.59L168.73 183.02L176.21 183.02L183.69 179.62L191.18 177.26L198.67 175.95L206.15 175.71L213.63 170.44L221.12 170.44L228.61 168.09L236.09 157.81L243.57 154.65L251.06 154.65L258.55 149.93L266.03 149.93L273.51 149.93"/><path d="M63.94 402.59L71.42 344.50L78.91 287.00L86.39 245.44L93.88 222.08L101.36 210.82L108.84 203.78L116.33 196.80L123.82 189.83L131.30 189.83L138.79 189.83L146.27 189.83L153.75 182.85L161.24 182.85L168.73 182.52L176.21 182.52L183.69 178.81L191.18 178.81L198.67 171.18L206.15 168.67L213.63 167.03L221.12 166.26L228.61 166.26L236.09 166.26L243.57 166.26L251.06 166.26L258.55 162.87L266.03 162.87L273.51 158.29"/><path d="M63.94 408.76L71.42 371.19L78.91 339.22L86.39 308.72L93.88 278.80L101.36 255.06L108.84 235.92L116.33 220.07L123.82 209.50L131.30 204.22L138.79 198.93L146.27 193.65L153.75 188.37L161.24 188.37L168.73 184.79L176.21 184.79L183.69 184.79L191.18 181.98L198.67 176.75L206.15 172.18L213.63 168.27L221.12 168.27L228.61 168.27L236.09 160.51L243.57 159.24L251.06 158.64L258.55 158.64L266.03 158.64L273.51 158.64L281.00 152.25L288.49 152.25L295.97 146.41L303.46 146.41"/><path d="M63.94 401.06L71.42 370.15L78.91 338.99L86.39 307.96L93.88 278.96L101.36 255.42L108.84 234.75L116.33 218.90L123.82 208.33L131.30 208.33L138.79 197.77L146.27 187.20L153.75 187.20L161.24 187.20L168.73 183.55L176.21 181.22L183.69 180.21L191.18 173.92L198.67 173.92L206.15 173.92L213.63 166.59L221.12 166.59L228.61 166.59L236.09 166.59L243.57 166.19L251.06 165.84L258.55 156.57L266.03 156.57L273.51 156.57L281.00 149.91L288.49 149.91L295.97 143.93L303.46 135.66L310.94 135.66L318.43 131.33L325.91 131.33L333.39 128.32L340.88 128.32L348.37 126.63L355.85 126.63"/><path d="M63.94 399.40L71.42 364.56L78.91 326.19L86.39 290.05L93.88 259.60L101.36 235.36L108.84 228.70L116.33 207.56L123.82 207.56L131.30 197.00L138.79 197.00L146.27 197.00L153.75 186.43L161.24 186.43L168.73 182.73L176.21 180.35L183.69 179.30L191.18 179.30L198.67 167.28L206.15 167.28L213.63 157.90L221.12 157.90L228.61 157.90L236.09 157.36L243.57 157.36L251.06 155.25L258.55 145.61L266.03 135.96L273.51 135.96L281.00 135.96L288.49 135.96L295.97 135.96L303.46 133.98"/><path d="M63.94 407.11L71.42 355.22L78.91 308.08L86.39 266.47L93.88 236.60L101.36 217.64L108.84 200.39L116.33 200.39L123.82 186.45L131.30 186.45L138.79 186.45L146.27 179.47L153.75 172.50L161.24 172.50L168.73 172.50L176.21 172.50L183.69 172.50L191.18 170.33L198.67 170.33L206.15 170.33L213.63 162.17L221.12 161.19L228.61 161.09L236.09 161.09L243.57 151.72L251.06 151.72L258.55 151.72L266.03 151.72L273.51 151.72L281.00 151.72L288.49 148.47L295.97 148.47L303.46 146.95L310.94 146.95L318.43 146.95L325.91 139.66"/><path d="M63.94 395.51L71.42 352.75L78.91 303.96L86.39 261.83L93.88 231.82L101.36 217.43L108.84 210.97L116.33 205.69L123.82 195.12L131.30 189.84L138.79 189.84L146.27 189.84L153.75 184.56L161.24 179.27L168.73 179.27L176.21 172.30L183.69 172.30L191.18 170.61L198.67 170.61L206.15 170.61L213.63 162.80L221.12 162.80L228.61 162.80L236.09 162.80L243.57 161.73L251.06 151.97L258.55 151.79L266.03 151.79L273.51 143.16L281.00 143.16L288.49 143.16L295.97 143.16L303.46 143.16L310.94 143.16"/><path d="M63.94 412.44L71.42 350.15L78.91 297.90L86.39 255.20L93.88 227.45L101.36 212.84L108.84 205.66L116.33 198.68L123.82 184.74L131.30 177.76L138.79 177.76L146.27 170.79L153.75 170.79L161.24 163.81L168.73 163.81L176.21 162.52L183.69 162.52L191.18 159.48L198.67 159.48L206.15 159.48L213.63 159.48L221.12 158.63L228.61 158.41L236.09 158.41L243.57 158.41L251.06 150.80L258.55 150.80L266.03 144.27L273.51 144.27L281.00 139.49L288.49 139.49L295.97 139.49L303.46 139.49L310.94 135.15L318.43 135.15L325.91 135.15"/><path d="M63.94 394.49L71.42 353.07L78.91 306.88L86.39 266.08L93.88 234.08L101.36 215.61L108.84 206.15L116.33 192.20L123.82 192.20L131.30 192.20L138.79 192.20L146.27 192.20L153.75 185.23L161.24 185.23L168.73 185.05L176.21 185.05L183.69 181.63L191.18 177.53L198.67 174.29L206.15 171.93L213.63 170.44L221.12 169.82L228.61 169.82L236.09 159.87L243.57 159.87L251.06 159.87L258.55 154.53L266.03 154.53L273.51 149.37L281.00 149.37L288.49 145.96L295.97 145.96L303.46 144.29"/><path d="M63.94 411.59L71.42 355.08L78.91 306.91L86.39 265.42L93.88 234.83L101.36 216.60L108.84 208.94L116.33 204.71L123.82 200.48L131.30 192.03L138.79 187.80L146.27 187.80L153.75 187.80L161.24 179.35L168.73 177.45L176.21 172.39L183.69 172.39L191.18 172.39L198.67 172.39L206.15 172.39L213.63 162.91L221.12 162.91L228.61 159.90L236.09 159.90L243.57 159.90L251.06 157.65L258.55 157.65L266.03 154.39L273.51 153.55"/><path d="M63.94 402.98L71.42 359.74L78.91 315.82L86.39 276.23L93.88 244.94L101.36 222.74L108.84 205.97L116.33 195.40L123.82 195.40L131.30 184.84L138.79 184.84L146.27 184.84L153.75 174.27L161.24 174.27L168.73 169.81L176.21 166.67L183.69 164.86L191.18 164.36L198.67 164.36L206.15 164.36L213.63 155.60L221.12 155.60L228.61 148.67L236.09 148.67L243.57 144.37L251.06 144.37L258.55 142.72L266.03 142.72L273.51 142.72L281.00 134.62L288.49 134.62L295.97 134.62L303.46 130.49L310.94 130.49"/><path d="M63.94 404.68L71.42 354.78L78.91 309.83L86.39 269.91L93.88 238.59L101.36 217.89L108.84 203.73L116.33 203.73L123.82 198.45L131.30 193.16L138.79 193.16L146.27 187.88L153.75 187.88L161.24 182.60L168.73 178.66L176.21 176.04L183.69 168.47L191.18 168.16L198.67 168.16L206.15 168.16L213.63 167.57L221.12 164.29L228.61 161.67L236.09 159.72L243.57 149.50L251.06 148.54L258.55 148.23L266.03 148.23L273.51 148.23L281.00 148.23L288.49 148.23"/><path d="M63.94 401.66L71.42 372.46L78.91 341.73L86.39 312.11L93.88 284.82L101.36 259.56L108.84 241.93L116.33 221.01L123.82 214.04L131.30 200.09L138.79 193.12L146.27 186.14L153.75 186.14L161.24 186.14L168.73 178.61L176.21 171.95L183.69 166.15L191.18 161.24L198.67 157.19L206.15 157.19L213.63 157.19L221.12 157.19L228.61 157.19L236.09 150.03L243.57 150.03L251.06 141.06L258.55 141.06L266.03 141.06L273.51 137.63L281.00 137.63L288.49 137.63L295.97 137.63L303.46 137.63L310.94 137.63L318.43 137.63L325.91 137.63L333.39 137.63"/><path d="M63.94 407.91L71.42 363.62L78.91 324.38L86.39 287.25L93.88 256.09L101.36 230.96L108.84 215.78L116.33 198.87L123.82 190.42L131.30 190.42L138.79 186.19L146.27 177.74L153.75 177.74L161.24 173.51L168.73 171.25L176.21 170.57L183.69 166.46L191.18 163.41L198.67 161.41L206.15 161.41L213.63 161.41L221.12 161.41L228.61 157.38L236.09 153.54L243.57 150.22L251.06 147.43L258.55 147.43L266.03 147.43L273.51 142.23L281.00 141.56L288.49 141.41L295.97 132.81L303.46 132.81L310.94 132.81L318.43 132.81L325.91 128.51L333.39 120.71L340.88 120.71L348.37 120.71"/><path d="M63.94 405.58L71.42 364.81L78.91 326.79L86.39 290.88L93.88 258.23L101.36 232.90L108.84 213.25L116.33 202.68L123.82 192.12L131.30 186.83L138.79 186.83L146.27 181.55L153.75 181.55L161.24 181.55L168.73 177.54L176.21 168.92L183.69 168.92L191.18 166.85L198.67 166.85L206.15 166.85L213.63 166.07L221.12 162.72L228.61 160.04L236.09 158.01L243.57 147.74L251.06 146.70L258.55 146.33L266.03 146.33L273.51 146.33L281.00 138.61L288.49 138.61L295.97 138.61L303.46 134.85L310.94 134.85L318.43 130.48L325.91 122.51L333.39 122.51"/><path d="M63.94 400.91L71.42 368.58L78.91 333.82L86.39 300.29L93.88 270.60L101.36 244.79L108.84 222.85L116.33 207.00L123.82 201.72L131.30 196.43L138.79 180.58L146.27 180.58L153.75 175.30L161.24 175.30L168.73 175.30L176.21 173.77L183.69 166.08L191.18 165.64L198.67 159.60L206.15 159.60L213.63 159.60L221.12 159.60L228.61 158.53L236.09 156.45L243.57 155.02L251.06 154.26L258.55 154.16L266.03 144.81"/><path d="M63.94 394.76L71.42 373.82L78.91 348.72L86.39 321.42L93.88 296.55L101.36 272.34L108.84 254.80L116.33 233.67L123.82 212.53L131.30 201.97L138.79 191.40L146.27 170.27L153.75 170.27L161.24 170.27L168.73 165.56L176.21 165.56L183.69 160.10L191.18 159.35L198.67 159.35L206.15 147.29L213.63 147.29L221.12 137.87L228.61 137.87L236.09 137.87L243.57 137.61L251.06 137.61L258.55 137.61L266.03 137.61L273.51 135.95L281.00 135.95L288.49 135.95L295.97 135.95L303.46 135.95L310.94 135.95"/><path d="M63.94 407.21L71.42 342.93L78.91 285.83L86.39 242.69L93.88 217.35L101.36 204.41L108.84 198.71L116.33 184.76L123.82 184.76L131.30 177.79L138.79 177.79L146.27 177.79L153.75 170.81L161.24 170.81L168.73 169.73L176.21 162.54L183.69 162.54L191.18 159.51L198.67 155.37L206.15 155.37L213.63 149.72L221.12 148.20L228.61 147.55L236.09 147.55L243.57 147.55L251.06 138.64L258.55 138.64L266.03 131.24L273.51 131.24L281.00 125.59L288.49 125.59L295.97 121.68L303.46 121.68L310.94 119.51"/><path d="M63.94 400.44L71.42 360.10L78.91 316.99L86.39 278.61L93.88 245.64L101.36 218.69L108.84 207.32L116.33 196.75L123.82 186.19L131.30 186.19L138.79 186.19L146.27 175.62L153.75 175.62L161.24 175.62L168.73 171.25L176.21 168.19L183.69 166.46L191.18 166.05L198.67 166.05L206.15 166.05L213.63 157.54L221.12 157.54L228.61 150.78L236.09 150.78L243.57 146.65L251.06 146.65L258.55 145.16L266.03 135.50L273.51 135.50L281.00 135.50L288.49 128.32L295.97 128.32L303.46 128.32L310.94 125.11L318.43 116.77L325.91 116.77L333.39 116.77"/><path d="M63.94 407.20L71.42 350.70L78.91 299.45L86.39 255.17L93.88 223.22L101.36 206.69L108.84 192.95L116.33 192.95L123.82 182.38L131.30 182.38L138.79 182.38L146.27 182.38L153.75 171.81L161.24 171.81L168.73 167.20L176.21 163.91L183.69 161.94L191.18 161.29L198.67 161.29L206.15 149.42L213.63 149.42L221.12 149.42L228.61 144.83L236.09 144.83L243.57 140.22L251.06 140.22L258.55 138.26L266.03 138.26L273.51 138.26L281.00 129.71L288.49 129.71L295.97 129.71"/><path d="M63.94 397.89L71.42 371.65L78.91 342.54L86.39 312.25L93.88 285.35L101.36 259.59L108.84 235.66L116.33 221.71L123.82 214.73L131.30 207.76L138.79 193.81L146.27 186.84L153.75 179.87L161.24 179.87L168.73 179.35L176.21 179.35L183.69 179.35L191.18 179.35L198.67 167.26L206.15 167.26L213.63 167.26L221.12 167.26L228.61 161.70L236.09 161.70L243.57 161.70L251.06 161.70L258.55 157.45L266.03 157.45L273.51 152.50L281.00 152.50L288.49 149.28L295.97 149.28L303.46 147.81L310.94 139.89L318.43 139.89L325.91 139.89L333.39 133.10L340.88 125.61L348.37 125.61L355.85 125.61"/><path d="M63.94 406.58L71.42 343.62L78.91 287.30L86.39 241.94L93.88 214.09L101.36 201.17L108.84 191.21L116.33 182.75L123.82 178.53L131.30 178.53L138.79 174.30L146.27 170.07L153.75 170.07L161.24 170.07L168.73 167.60L176.21 167.60L183.69 167.40L191.18 164.40L198.67 162.45L206.15 155.74L213.63 155.65L221.12 150.26L228.61 150.26L236.09 150.26L243.57 150.26L251.06 150.26L258.55 150.26L266.03 150.26L273.51 143.76L281.00 143.13L288.49 143.04L295.97 134.48L303.46 134.48L310.94 126.89L318.43 126.89L325.91 126.89L333.39 126.89L340.88 125.44L348.37 125.44L355.85 121.54"/><path d="M63.94 408.99L71.42 345.92L78.91 290.05L86.39 245.17L93.88 216.59L101.36 202.81L108.84 194.77L116.33 180.83L123.82 180.83L131.30 173.85L138.79 166.88L146.27 166.88L153.75 166.88L161.24 159.91L168.73 158.14L176.21 150.27L183.69 150.27L191.18 150.27L198.67 150.21L206.15 146.70L213.63 144.07L221.12 144.07L228.61 141.41L236.09 141.39L243.57 141.39L251.06 141.39L258.55 133.92L266.03 133.92L273.51 127.33L281.00 127.33L288.49 127.33"/><path d="M63.94 402.14L71.42 344.64L78.91 288.96L86.39 244.63L93.88 217.51L101.36 203.26L108.84 198.58L116.33 185.90L123.82 185.90L131.30 181.67L138.79 177.44L146.27 177.44L153.75 173.22L161.24 173.22L168.73 173.22L176.21 165.49L183.69 165.49L191.18 163.04L198.67 163.04L206.15 163.04L213.63 160.16L221.12 154.98L228.61 154.98L236.09 153.06L243.57 149.72L251.06 146.92L258.55 144.64L266.03 142.88L273.51 141.66L281.00 140.97L288.49 140.80L295.97 132.18L303.46 132.18L310.94 132.18L318.43 125.87"/><path d="M63.94 403.95L71.42 353.04L78.91 306.79L86.39 265.89L93.88 234.49L101.36 212.29L108.84 210.34L116.33 199.78L123.82 189.21L131.30 189.21L138.79 189.21L146.27 178.65L153.75 178.65L161.24 178.65L168.73 174.46L176.21 171.59L183.69 170.05L191.18 169.83L198.67 157.06L206.15 157.06L213.63 157.06L221.12 150.44L228.61 150.44L236.09 144.71L243.57 144.71L251.06 141.62L258.55 131.49L266.03 131.49L273.51 131.49L281.00 131.49L288.49 131.49L295.97 125.75L303.46 116.94L310.94 108.14L318.43 108.14L325.91 108.14L333.39 107.46"/><path d="M63.94 405.53L71.42 361.23L78.91 319.79L86.39 281.94L93.88 248.78L101.36 223.37L108.84 206.43L116.33 190.58L123.82 180.01L131.30 169.45L138.79 169.45L146.27 169.45L153.75 164.16L161.24 164.16L168.73 164.16L176.21 161.24L183.69 159.13L191.18 151.72L198.67 151.72L206.15 151.72L213.63 148.67L221.12 144.57L228.61 144.57L236.09 144.57L243.57 144.57L251.06 144.02L258.55 143.55L266.03 143.55L273.51 143.55L281.00 143.55L288.49 137.38L295.97 137.38L303.46 137.38L310.94 134.99L318.43 134.99L325.91 131.41L333.39 131.41L340.88 129.15L348.37 121.75"/><path d="M63.94 402.20L71.42 351.95L78.91 303.13L86.39 261.21L93.88 228.71L101.36 208.18L108.84 194.82L116.33 189.53L123.82 184.25L131.30 178.97L138.79 178.97L146.27 178.97L153.75 178.97L161.24 173.68L168.73 169.19L176.21 166.01L183.69 166.01L191.18 166.01L198.67 164.41L206.15 159.25L213.63 154.76L221.12 150.92L228.61 147.75L236.09 145.23L243.57 143.38L251.06 142.18L258.55 141.65L266.03 141.65L273.51 141.65L281.00 133.45L288.49 133.45L295.97 133.45"/><path d="M63.94 396.20L71.42 360.60L78.91 320.21L86.39 282.24L93.88 249.37L101.36 223.11L108.84 201.34L116.33 188.66L123.82 184.44L131.30 180.21L138.79 175.98L146.27 171.76L153.75 171.76L161.24 167.53L168.73 164.90L176.21 159.09L183.69 159.09L191.18 155.93L198.67 153.56L206.15 153.56L213.63 153.56L221.12 152.79L228.61 148.04L236.09 148.04L243.57 148.04L251.06 148.04L258.55 148.04L266.03 140.15L273.51 138.83L281.00 138.05L288.49 129.07L295.97 129.07L303.46 129.07L310.94 121.17L318.43 112.72L325.91 112.72L333.39 106.13L340.88 106.13L348.37 106.13L355.85 106.13"/><path d="M63.94 402.84L71.42 345.69L78.91 291.00L86.39 245.63L93.88 216.36L101.36 200.56L108.84 188.63L116.33 188.63L123.82 184.41L131.30 180.18L138.79 175.95L146.27 175.95L153.75 171.73L161.24 167.50L168.73 164.86L176.21 163.81L183.69 159.32L191.18 155.89L198.67 153.52L206.15 153.52L213.63 151.94L221.12 151.94L228.61 147.99L236.09 143.77L243.57 143.77L251.06 143.77L258.55 141.93L266.03 141.93L273.51 138.77L281.00 137.98L288.49 137.72L295.97 137.72L303.46 137.72L310.94 137.72L318.43 132.19L325.91 132.19L333.39 132.19"/><path d="M63.94 409.95L71.42 352.80L78.91 303.86L86.39 260.94L93.88 227.46L101.36 206.37L108.84 197.57L116.33 187.01L123.82 187.01L131.30 176.44L138.79 176.44L146.27 176.44L153.75 176.44L161.24 176.44L168.73 172.12L176.21 169.11L183.69 167.43L191.18 167.07L198.67 154.16L206.15 154.16L213.63 143.53L221.12 143.53L228.61 143.53L236.09 141.13L243.57 141.13L251.06 141.13L258.55 141.13L266.03 137.04L273.51 137.04L281.00 137.04L288.49 130.01L295.97 121.07L303.46 121.07L310.94 121.07L318.43 118.66L325.91 118.66"/><path d="M63.94 406.92L71.42 371.72L78.91 340.24L86.39 310.43L93.88 282.38L101.36 256.78L108.84 240.13L116.33 218.99L123.82 203.14L131.30 187.29L138.79 182.01L146.27 171.44L153.75 171.44L161.24 166.16L168.73 166.16L176.21 166.16L183.69 166.16L191.18 166.16L198.67 166.16L206.15 166.16L213.63 166.16L221.12 155.49L228.61 152.50L236.09 150.18L243.57 148.52L251.06 147.51L258.55 147.17L266.03 137.58L273.51 137.58L281.00 137.58L288.49 130.61L295.97 121.68L303.46 121.68L310.94 115.71"/><path d="M63.94 397.14L71.42 354.35L78.91 308.06L86.39 266.75L93.88 233.76L101.36 209.08L108.84 194.85L116.33 184.29L123.82 173.72L131.30 173.72L138.79 173.72L146.27 173.72L153.75 173.72L161.24 173.72L168.73 169.23L176.21 166.06L183.69 164.20L191.18 163.67L198.67 163.67L206.15 163.67L213.63 154.81L221.12 154.81L228.61 154.81L236.09 153.88L243.57 143.44L251.06 143.44L258.55 141.72L266.03 131.94L273.51 122.17L281.00 122.17L288.49 122.17L295.97 115.29"/><path d="M63.94 392.82L71.42 356.90L78.91 311.95L86.39 270.89L93.88 237.33L101.36 212.13L108.84 198.09L116.33 184.15L123.82 184.15L131.30 177.17L138.79 177.17L146.27 177.17L153.75 170.20L161.24 163.22L168.73 161.67L176.21 161.67L183.69 161.67L191.18 161.67L198.67 161.67L206.15 160.86L213.63 148.84L221.12 147.28L228.61 146.60L236.09 146.60L243.57 146.60L251.06 137.57L258.55 137.57L266.03 130.09L273.51 130.09L281.00 130.09L288.49 129.34L295.97 120.38L303.46 120.38L310.94 118.14"/><path d="M63.94 405.81L71.42 356.02L78.91 311.96L86.39 271.33L93.88 237.73L101.36 211.80L108.84 198.81L116.33 188.24L123.82 177.68L131.30 177.68L138.79 177.68L146.27 177.68L153.75 172.39L161.24 172.39L168.73 167.82L176.21 164.56L183.69 162.63L191.18 162.01L198.67 162.01L206.15 162.01L213.63 160.50L221.12 156.91L228.61 153.99L236.09 151.72L243.57 150.12L251.06 149.17L258.55 139.31L266.03 139.31L273.51 139.31L281.00 130.87L288.49 130.87L295.97 130.87L303.46 130.87L310.94 129.73L318.43 121.52L325.91 121.52L333.39 121.52L340.88 121.52"/><path d="M63.94 412.21L71.42 367.88L78.91 336.68L86.39 305.27L93.88 276.20L101.36 249.43L108.84 224.58L116.33 208.73L123.82 192.88L131.30 182.32L138.79 166.47L146.27 161.18L153.75 155.90L161.24 155.90L168.73 155.90L176.21 151.95L183.69 149.31L191.18 148.00L198.67 148.00L206.15 142.07L213.63 142.07L221.12 142.07L228.61 136.47L236.09 136.47L243.57 136.47L251.06 136.47L258.55 136.47L266.03 136.47L273.51 136.47L281.00 136.47L288.49 131.24L295.97 131.24L303.46 124.98L310.94 124.98"/><path d="M63.94 397.76L71.42 364.66L78.91 326.19L86.39 290.64L93.88 258.59L101.36 230.68L108.84 214.05L116.33 193.13L123.82 186.16L131.30 179.18L138.79 165.23L146.27 165.23L153.75 158.26L161.24 158.26L168.73 158.26L176.21 158.26L183.69 157.89L191.18 157.89L198.67 157.21L206.15 154.03L213.63 151.73L221.12 150.30L228.61 149.74L236.09 149.74L243.57 149.74L251.06 141.08L258.55 130.93L266.03 130.93L273.51 124.15L281.00 124.15L288.49 119.11L295.97 109.83L303.46 109.83L310.94 106.97L318.43 106.97L325.91 105.85L333.39 105.85"/><path d="M63.94 403.52L71.42 354.59L78.91 308.03L86.39 265.84L93.88 231.88L101.36 207.69L108.84 189.04L116.33 182.07L123.82 175.09L131.30 168.12L138.79 168.12L146.27 161.15L153.75 161.15L161.24 161.15L168.73 159.46L176.21 159.46L183.69 159.46L191.18 156.14L198.67 151.84L206.15 151.84L213.63 151.84L221.12 144.16L228.61 143.35L236.09 132.07L243.57 132.07L251.06 132.07L258.55 132.07L266.03 126.20L273.51 126.20L281.00 120.21"/><path d="M63.94 400.74L71.42 349.02L78.91 298.30L86.39 254.79L93.88 219.62L101.36 198.21L108.84 186.54L116.33 175.97L123.82 165.41L131.30 165.41L138.79 160.12L146.27 160.12L153.75 160.12L161.24 160.12L168.73 160.12L176.21 156.70L183.69 154.33L191.18 153.28L198.67 153.28L206.15 147.88L213.63 142.86L221.12 138.51L228.61 138.51L236.09 138.51L243.57 138.33L251.06 136.95L258.55 136.23L266.03 126.26L273.51 126.26L281.00 126.26L288.49 118.16L295.97 118.16L303.46 118.16L310.94 118.16L318.43 117.59"/><path d="M63.94 415.19L71.42 351.33L78.91 301.55L86.39 256.92L93.88 223.22L101.36 199.95L108.84 190.03L116.33 185.80L123.82 177.35L131.30 173.12L138.79 173.12L146.27 168.89L153.75 168.89L161.24 164.67L168.73 164.67L176.21 164.67L183.69 164.67L191.18 162.92L198.67 155.35L206.15 142.50L213.63 141.80L221.12 141.80L228.61 141.80L236.09 139.17L243.57 135.30L251.06 131.95L258.55 129.14L266.03 126.85L273.51 126.85"/><path d="M63.94 409.88L71.42 357.83L78.91 315.38L86.39 274.14L93.88 239.02L101.36 212.17L108.84 190.14L116.33 181.68L123.82 173.23L131.30 164.78L138.79 160.55L146.27 156.32L153.75 152.10L161.24 147.87L168.73 144.01L176.21 141.73L183.69 141.03L191.18 136.64L198.67 136.64L206.15 136.64L213.63 129.81L221.12 129.64L228.61 123.93L236.09 123.93L243.57 121.22L251.06 121.22L258.55 121.22L266.03 121.22L273.51 121.22L281.00 121.22L288.49 114.68L295.97 114.25L303.46 114.25L310.94 114.25L318.43 106.35L325.91 106.35"/><path d="M63.94 406.15L71.42 346.45L78.91 293.89L86.39 248.64L93.88 215.21L101.36 195.78L108.84 185.44L116.33 180.16L123.82 169.59L131.30 169.59L138.79 164.31L146.27 164.31L153.75 164.31L161.24 164.31L168.73 159.23L176.21 159.23L183.69 159.23L191.18 158.51L198.67 152.11L206.15 146.36L213.63 141.28L221.12 136.86L228.61 133.10L236.09 130.00L243.57 127.56L251.06 125.78L258.55 124.66L266.03 124.20L273.51 124.20L281.00 124.20L288.49 115.89L295.97 115.89L303.46 108.69L310.94 99.65"/><path d="M63.94 393.62L71.42 351.38L78.91 302.62L86.39 259.59L93.88 224.57L101.36 200.23L108.84 187.63L116.33 177.06L123.82 171.78L131.30 161.21L138.79 161.21L146.27 155.93L153.75 155.93L161.24 155.93L168.73 150.32L176.21 146.03L183.69 143.07L191.18 141.43L198.67 141.10L206.15 141.10L213.63 141.10L221.12 140.14L228.61 136.51L236.09 133.55L243.57 131.24L251.06 131.24L258.55 131.24L266.03 131.24L273.51 128.63L281.00 128.63L288.49 128.63L295.97 122.38L303.46 113.47L310.94 113.47L318.43 107.88L325.91 107.88L333.39 103.60L340.88 103.60L348.37 100.64"/><path d="M63.94 397.83L71.42 359.91L78.91 317.86L86.39 279.17L93.88 244.60L101.36 215.98L108.84 196.75L116.33 188.29L123.82 175.61L131.30 167.16L138.79 158.71L146.27 150.25L153.75 150.25L161.24 150.25L168.73 146.54L176.21 144.41L183.69 138.85L191.18 138.85L198.67 138.85L206.15 134.30L213.63 133.23L221.12 133.21L228.61 133.21L236.09 129.48L243.57 125.24L251.06 125.24L258.55 118.34L266.03 115.68L273.51 113.55L281.00 111.95L288.49 110.87L295.97 110.33L303.46 110.31L310.94 101.31L318.43 101.31L325.91 101.31"/><path d="M63.94 393.76L71.42 370.65L78.91 341.23L86.39 312.90L93.88 285.73L101.36 259.08L108.84 235.04L116.33 209.68L123.82 197.00L131.30 175.87L138.79 163.19L146.27 154.73L153.75 154.73L161.24 154.73L168.73 151.30L176.21 149.45L183.69 139.15L191.18 139.15L198.67 136.77L206.15 134.65L213.63 133.59L221.12 133.59L228.61 128.05L236.09 123.03L243.57 123.03L251.06 121.97L258.55 111.14L266.03 111.14L273.51 111.14L281.00 111.14L288.49 102.68L295.97 101.89L303.46 101.62L310.94 101.62L318.43 101.62L325.91 93.96L333.39 93.96L340.88 87.09"/><path d="M63.94 390.92L71.42 369.85L78.91 340.97L86.39 311.20L93.88 283.74L101.36 256.18L108.84 234.79L116.33 213.66L123.82 192.52L131.30 175.62L138.79 162.94L146.27 158.71L153.75 154.49L161.24 150.26L168.73 146.54L176.21 146.54L183.69 143.87L191.18 143.87L198.67 143.87L206.15 143.87L213.63 139.31L221.12 139.31L228.61 139.31L236.09 136.36L243.57 136.36L251.06 136.33L258.55 133.67L266.03 131.54L273.51 129.94L281.00 128.86L288.49 119.60L295.97 110.34L303.46 110.32L310.94 110.32"/><path d="M63.94 393.33L71.42 350.16L78.91 299.92L86.39 255.81L93.88 220.39L101.36 194.63L108.84 176.14L116.33 167.69L123.82 159.24L131.30 155.01L138.79 150.78L146.27 150.78L153.75 150.78L161.24 150.78L168.73 150.78L176.21 149.76L183.69 149.51L191.18 140.28L198.67 137.13L206.15 135.03L213.63 133.99L221.12 133.99L228.61 133.99L236.09 133.99L243.57 133.26L251.06 133.26L258.55 133.26L266.03 132.52L273.51 130.95L281.00 129.91L288.49 129.40L295.97 120.44L303.46 120.44L310.94 112.02L318.43 112.02L325.91 104.65"/><path d="M63.94 393.33L71.42 350.81L78.91 301.37L86.39 256.55L93.88 219.67L101.36 192.59L108.84 173.19L116.33 157.34L123.82 152.06L131.30 146.78L138.79 141.49L146.27 141.49L153.75 136.21L161.24 136.21L168.73 134.99L176.21 129.80L183.69 125.93L191.18 123.39L198.67 122.16L206.15 122.16L213.63 116.08L221.12 110.56L228.61 110.56L236.09 110.10L243.57 110.10L251.06 110.10L258.55 110.10L266.03 110.10L273.51 110.10L281.00 110.10L288.49 110.10L295.97 110.10L303.46 105.02"/></g><path d="M63.94 403.48L71.42 363.96L78.91 323.81L86.39 286.83L93.88 256.19L101.36 232.94L108.84 219.20L116.33 210.75L123.82 204.41L131.30 199.55L138.79 195.96L146.27 193.21L153.75 191.10L161.24 188.56L168.73 186.02L176.21 183.91L183.69 181.80L191.18 179.68L198.67 177.57L206.15 175.46L213.63 173.56L221.12 171.65L228.61 169.12L236.09 166.37L243.57 164.26L251.06 162.14L258.55 160.45L266.03 158.55L273.51 156.86L281.00 155.17L288.49 153.27L295.97 151.37L303.46 149.46L310.94 147.35L318.43 144.18L325.91 141.65L333.39 138.90L340.88 138.48L348.37 137.42L355.85 135.09L363.33 128.75L370.82 121.57L378.31 121.57L385.79 118.19L393.27 118.19L400.76 112.90L408.25 112.90L415.73 112.90L423.22 112.90L430.70 112.90L438.19 112.90L445.67 112.90L453.16 112.90" fill="none" stroke="#c5a31e" stroke-opacity="0.60" stroke-width="2.85" stroke-linejoin="round"/><path d="M63.94 412.57L71.42 387.21L78.91 361.85L86.39 337.55L93.88 313.25L101.36 302.68L108.84 295.92L116.33 293.80L123.82 291.48L131.30 289.36L138.79 289.36L146.27 285.14L153.75 285.14L161.24 285.14L168.73 285.14L176.21 285.14L183.69 285.14L191.18 285.14L198.67 285.14L206.15 285.14L213.63 274.36L221.12 274.36L228.61 274.36L236.09 274.36L243.57 274.36L251.06 274.36L258.55 274.36L266.03 274.36" fill="none" stroke="#1a57a5" stroke-width="2.85" stroke-linejoin="round"/><path d="M63.94 412.57L71.42 392.49L78.91 372.42L86.39 358.26L93.88 350.86L101.36 348.75L108.84 341.77L116.33 334.38L123.82 330.79L131.30 327.62L138.79 320.01L146.27 320.01L153.75 315.78L161.24 315.78L168.73 308.91L176.21 308.91L183.69 308.91L191.18 308.91L198.67 308.91L206.15 308.91L213.63 308.91L221.12 308.91L228.61 308.91L236.09 308.91L243.57 308.91" fill="none" stroke="#1a57a5" stroke-width="2.85" stroke-linejoin="round"/><circle cx="266.03" cy="274.36" r="3.1" fill="#a9a9a9"/><circle cx="243.57" cy="308.91" r="3.1" fill="#a9a9a9"/><g fill="none" stroke="#969696" stroke-opacity="0.42" stroke-width="1.42" stroke-linejoin="round"><path d="M534.08 419.75L537.76 372.48L541.44 325.22L545.12 277.95L548.80 277.95L552.48 277.95L556.16 277.95L559.84 277.95L563.52 277.95L567.20 254.32L570.88 230.69L574.56 230.69L578.24 230.69"/><path d="M534.08 396.12L537.76 301.59L541.44 301.59L545.12 301.59L548.80 301.59L552.48 301.59L556.16 301.59L559.84 301.59L563.52 277.95L567.20 277.95L570.88 277.95L574.56 277.95L578.24 277.95L581.92 277.95L585.60 254.32L589.28 254.32L592.96 254.32"/><path d="M534.08 419.75L537.76 419.75L541.44 396.12L545.12 372.48L548.80 372.48L552.48 372.48L556.16 372.48L559.84 372.48L563.52 372.48L567.20 372.48L570.88 372.48L574.56 372.48L578.24 372.48L581.92 372.48L585.60 372.48L589.28 372.48L592.96 372.48L596.64 372.48L600.32 372.48L604.00 372.48L607.68 372.48L611.36 372.48L615.04 372.48L618.72 372.48L622.40 372.48"/><path d="M534.08 396.12L537.76 372.48L541.44 348.85L545.12 325.22L548.80 325.22L552.48 325.22L556.16 325.22L559.84 325.22L563.52 325.22L567.20 325.22L570.88 325.22L574.56 325.22L578.24 325.22L581.92 325.22L585.60 325.22L589.28 325.22L592.96 325.22L596.64 325.22L600.32 325.22L604.00 325.22L607.68 325.22"/><path d="M534.08 396.12L537.76 372.48L541.44 372.48L545.12 372.48L548.80 372.48L552.48 372.48L556.16 348.85L559.84 348.85L563.52 348.85L567.20 348.85"/><path d="M534.08 419.75L537.76 372.48L541.44 348.85L545.12 348.85L548.80 348.85L552.48 348.85L556.16 348.85L559.84 348.85L563.52 325.22L567.20 325.22L570.88 325.22"/><path d="M534.08 396.12L537.76 348.85L541.44 325.22L545.12 301.59L548.80 301.59L552.48 301.59L556.16 301.59L559.84 277.95L563.52 277.95L567.20 277.95L570.88 277.95L574.56 277.95"/><path d="M534.08 396.12L537.76 372.48L541.44 348.85L545.12 348.85L548.80 348.85L552.48 348.85"/><path d="M534.08 419.75L537.76 396.12L541.44 372.48L545.12 348.85L548.80 325.22L552.48 301.59L556.16 301.59L559.84 301.59L563.52 301.59L567.20 301.59L570.88 301.59L574.56 301.59L578.24 301.59L581.92 301.59L585.60 301.59"/><path d="M534.08 396.12L537.76 372.48L541.44 348.85L545.12 325.22L548.80 301.59L552.48 277.95L556.16 277.95L559.84 277.95L563.52 277.95L567.20 277.95L570.88 277.95L574.56 277.95L578.24 277.95L581.92 277.95"/></g><path d="M534.08 405.57L537.76 383.12L541.44 360.67L545.12 344.83L548.80 336.56L552.48 334.20L556.16 326.40L559.84 318.13L563.52 314.11L567.20 310.57L570.88 302.06L574.56 302.06L578.24 297.33L581.92 297.33L585.60 289.65L589.28 289.65L592.96 289.65L596.64 289.65L600.32 289.65L604.00 289.65L607.68 289.65L611.36 289.65L615.04 289.65L618.72 289.65L622.40 289.65" fill="none" stroke="#1a57a5" stroke-opacity="0.56" stroke-width="2.85" stroke-linejoin="round"/><path d="M534.08 395.41L537.76 351.21L541.44 306.31L545.12 264.95L548.80 230.69L552.48 204.69L556.16 189.33L559.84 179.88L563.52 172.79L567.20 167.35L570.88 163.33L574.56 160.26L578.24 157.90L581.92 155.06L585.60 152.22L589.28 149.86L592.96 147.50L596.64 145.13L600.32 142.77L604.00 140.41L607.68 138.28L611.36 136.15L615.04 133.32L618.72 130.25L622.40 127.88L626.08 125.52L629.76 123.63L633.44 121.50L637.12 119.61L640.80 117.72L644.48 115.59L648.16 113.47L651.84 111.34L655.52 108.98L659.20 105.43L662.88 102.60L666.56 99.52L670.24 99.05L673.92 97.87L677.60 95.27L681.28 88.18L684.96 80.14L688.64 80.14L692.32 76.36L696.00 76.36L699.68 70.45L703.36 70.45L707.04 70.45L710.72 70.45L714.40 70.45L718.08 70.45L721.76 70.45L725.44 70.45" fill="none" stroke="#c5a31e" stroke-opacity="0.60" stroke-width="2.85" stroke-linejoin="round"/><g fill="none" stroke="#969696" stroke-opacity="0.42" stroke-width="1.42" stroke-linejoin="round"><path d="M751.68 396.12L755.36 348.85L759.04 301.59L762.72 230.69L766.40 230.69L770.08 207.05L773.76 207.05L777.44 207.05L781.12 207.05L784.80 207.05L788.48 207.05L792.16 207.05L795.84 207.05L799.52 207.05L803.20 207.05L806.88 207.05L810.56 207.05L814.24 207.05L817.92 207.05"/><path d="M751.68 396.12L755.36 372.48L759.04 325.22L762.72 277.95L766.40 254.32L770.08 254.32L773.76 254.32L777.44 254.32L781.12 254.32L784.80 254.32L788.48 254.32L792.16 254.32L795.84 254.32L799.52 254.32L803.20 254.32L806.88 254.32L810.56 254.32L814.24 254.32L817.92 254.32L821.60 254.32L825.28 230.69L828.96 230.69L832.64 230.69L836.32 230.69L840.00 230.69"/><path d="M751.68 419.75L755.36 372.48L759.04 325.22L762.72 277.95L766.40 277.95L770.08 277.95L773.76 277.95L777.44 277.95L781.12 277.95L784.80 277.95L788.48 277.95L792.16 277.95L795.84 277.95L799.52 277.95L803.20 277.95L806.88 277.95L810.56 277.95L814.24 277.95L817.92 277.95L821.60 277.95L825.28 277.95L828.96 277.95L832.64 277.95L836.32 277.95L840.00 277.95L843.68 277.95L847.36 277.95L851.04 277.95"/><path d="M751.68 396.12L755.36 348.85L759.04 301.59L762.72 277.95L766.40 277.95L770.08 277.95L773.76 277.95L777.44 277.95L781.12 277.95L784.80 277.95L788.48 277.95L792.16 277.95L795.84 277.95L799.52 277.95L803.20 277.95L806.88 277.95L810.56 277.95L814.24 277.95L817.92 277.95"/><path d="M751.68 419.75L755.36 372.48L759.04 325.22L762.72 301.59L766.40 301.59L770.08 301.59L773.76 301.59L777.44 301.59L781.12 301.59L784.80 301.59L788.48 301.59L792.16 301.59L795.84 301.59"/><path d="M751.68 396.12L755.36 372.48L759.04 325.22L762.72 301.59L766.40 277.95L770.08 254.32L773.76 254.32L777.44 254.32L781.12 254.32L784.80 254.32L788.48 254.32L792.16 254.32L795.84 254.32L799.52 254.32L803.20 254.32L806.88 254.32L810.56 254.32"/><path d="M751.68 419.75L755.36 396.12L759.04 348.85L762.72 301.59L766.40 277.95L770.08 277.95L773.76 277.95L777.44 254.32L781.12 254.32L784.80 254.32L788.48 254.32L792.16 254.32"/><path d="M751.68 396.12L755.36 372.48L759.04 348.85L762.72 325.22L766.40 301.59L770.08 277.95L773.76 277.95L777.44 277.95L781.12 277.95L784.80 254.32"/><path d="M751.68 419.75L755.36 396.12L759.04 372.48L762.72 348.85"/><path d="M751.68 396.12L755.36 372.48L759.04 372.48"/></g><path d="M751.68 405.57L755.36 377.21L759.04 348.85L762.72 321.67L766.40 294.50L770.08 282.68L773.76 275.12L777.44 272.75L781.12 270.15L784.80 267.79L788.48 267.79L792.16 263.06L795.84 263.06L799.52 263.06L803.20 263.06L806.88 263.06L810.56 263.06L814.24 263.06L817.92 263.06L821.60 263.06L825.28 251.01L828.96 251.01L832.64 251.01L836.32 251.01L840.00 251.01L843.68 251.01L847.36 251.01L851.04 251.01" fill="none" stroke="#1a57a5" stroke-opacity="0.56" stroke-width="2.85" stroke-linejoin="round"/><path d="M751.68 395.41L755.36 351.21L759.04 306.31L762.72 264.95L766.40 230.69L770.08 204.69L773.76 189.33L777.44 179.88L781.12 172.79L784.80 167.35L788.48 163.33L792.16 160.26L795.84 157.90L799.52 155.06L803.20 152.22L806.88 149.86L810.56 147.50L814.24 145.13L817.92 142.77L821.60 140.41L825.28 138.28L828.96 136.15L832.64 133.32L836.32 130.25L840.00 127.88L843.68 125.52L847.36 123.63L851.04 121.50L854.72 119.61L858.40 117.72L862.08 115.59L865.76 113.47L869.44 111.34L873.12 108.98L876.80 105.43L880.48 102.60L884.16 99.52L887.84 99.05L891.52 97.87L895.20 95.27L898.88 88.18L902.56 80.14L906.24 80.14L909.92 76.36L913.60 76.36L917.28 70.45L920.96 70.45L924.64 70.45L928.32 70.45L932.00 70.45L935.68 70.45L939.36 70.45L943.04 70.45" fill="none" stroke="#c5a31e" stroke-opacity="0.60" stroke-width="2.85" stroke-linejoin="round"/><rect x="658.55" y="95.65" width="55.60" height="19.30" rx="2.6" ry="2.6" fill="#fff" stroke="#1f5fab" stroke-width="0.9"/><text transform="translate(686.35,111.30) scale(1,1.05)" text-anchor="middle" font-size="14.67" fill="#1f5fab">-100 %</text><rect x="876.15" y="95.65" width="55.60" height="19.30" rx="2.6" ry="2.6" fill="#fff" stroke="#1f5fab" stroke-width="0.9"/><text transform="translate(903.95,111.30) scale(1,1.05)" text-anchor="middle" font-size="14.67" fill="#1f5fab">-100 %</text><rect x="653.75" y="375.65" width="65.40" height="18.70" rx="2.6" ry="2.6" fill="#fff" stroke="#1f5fab" stroke-width="0.9"/><text transform="translate(686.45,390.70) scale(1,1.05)" text-anchor="middle" font-size="14.67" fill="#1f5fab">-60 delta</text><rect x="871.55" y="375.55" width="65.30" height="18.80" rx="2.6" ry="2.6" fill="#fff" stroke="#1f5fab" stroke-width="0.9"/><text transform="translate(904.20,390.70) scale(1,1.05)" text-anchor="middle" font-size="14.67" fill="#1f5fab">-48 delta</text><text transform="translate(37.90,430.05) scale(1,1.050)" text-anchor="end" font-size="11.73" fill="#4d4d4d">0</text><text transform="translate(37.90,324.39) scale(1,1.050)" text-anchor="end" font-size="11.73" fill="#4d4d4d">5</text><text transform="translate(37.90,218.72) scale(1,1.050)" text-anchor="end" font-size="11.73" fill="#4d4d4d">10</text><text transform="translate(37.90,113.05) scale(1,1.050)" text-anchor="end" font-size="11.73" fill="#4d4d4d">15</text><text transform="translate(517.90,424.55) scale(1,1.050)" text-anchor="end" font-size="11.73" fill="#4d4d4d">0</text><text transform="translate(517.90,306.39) scale(1,1.050)" text-anchor="end" font-size="11.73" fill="#4d4d4d">5</text><text transform="translate(517.90,188.22) scale(1,1.050)" text-anchor="end" font-size="11.73" fill="#4d4d4d">10</text><text transform="translate(517.90,70.05) scale(1,1.050)" text-anchor="end" font-size="11.73" fill="#4d4d4d">15</text><text transform="translate(56.45,452.80) scale(1,1.050)" text-anchor="middle" font-size="11.73" fill="#4d4d4d">0</text><text transform="translate(530.40,452.80) scale(1,1.050)" text-anchor="middle" font-size="11.73" fill="#4d4d4d">0</text><text transform="translate(748.00,452.80) scale(1,1.050)" text-anchor="middle" font-size="11.73" fill="#4d4d4d">0</text><text transform="translate(206.15,452.80) scale(1,1.050)" text-anchor="middle" font-size="11.73" fill="#4d4d4d">20</text><text transform="translate(604.00,452.80) scale(1,1.050)" text-anchor="middle" font-size="11.73" fill="#4d4d4d">20</text><text transform="translate(821.60,452.80) scale(1,1.050)" text-anchor="middle" font-size="11.73" fill="#4d4d4d">20</text><text transform="translate(355.85,452.80) scale(1,1.050)" text-anchor="middle" font-size="11.73" fill="#4d4d4d">40</text><text transform="translate(677.60,452.80) scale(1,1.050)" text-anchor="middle" font-size="11.73" fill="#4d4d4d">40</text><text transform="translate(895.20,452.80) scale(1,1.050)" text-anchor="middle" font-size="11.73" fill="#4d4d4d">40</text><text transform="translate(258.75,470.00) scale(1,1.050)" text-anchor="middle" font-size="14.67" fill="#000">visit</text><text transform="translate(738.75,470.00) scale(1,1.050)" text-anchor="middle" font-size="14.67" fill="#000">visit</text><text transform="translate(17.6,234.5) rotate(-90) scale(1,1.05)" text-anchor="middle" font-size="14.67" fill="#000">Mean Cumulative EVENT Count per Site</text><text transform="translate(497.6,245.6) rotate(-90) scale(1,1.05)" text-anchor="middle" font-size="14.67" fill="#000">Cumulative EVENT Count per Patient</text><text transform="translate(629.75,45.80) scale(1,1.050)" text-anchor="middle" font-size="11.73" fill="#1a1a1a">S0002</text><text transform="translate(847.50,45.80) scale(1,1.050)" text-anchor="middle" font-size="11.73" fill="#1a1a1a">S0001</text><text transform="translate(135.80,92.30) scale(1,1.050)" text-anchor="middle" font-size="14.67" fill="#000">N: 100</text><text transform="translate(549.60,111.00) scale(1,1.050)" font-size="14.67" fill="#000" xml:space="preserve">N:  10</text><text transform="translate(767.20,111.00) scale(1,1.050)" font-size="14.67" fill="#000" xml:space="preserve">N:  10</text><text transform="translate(479.6,18.7)" text-anchor="middle" font-size="18.2" font-weight="bold" fill="#000">A</text></svg></body></html>
